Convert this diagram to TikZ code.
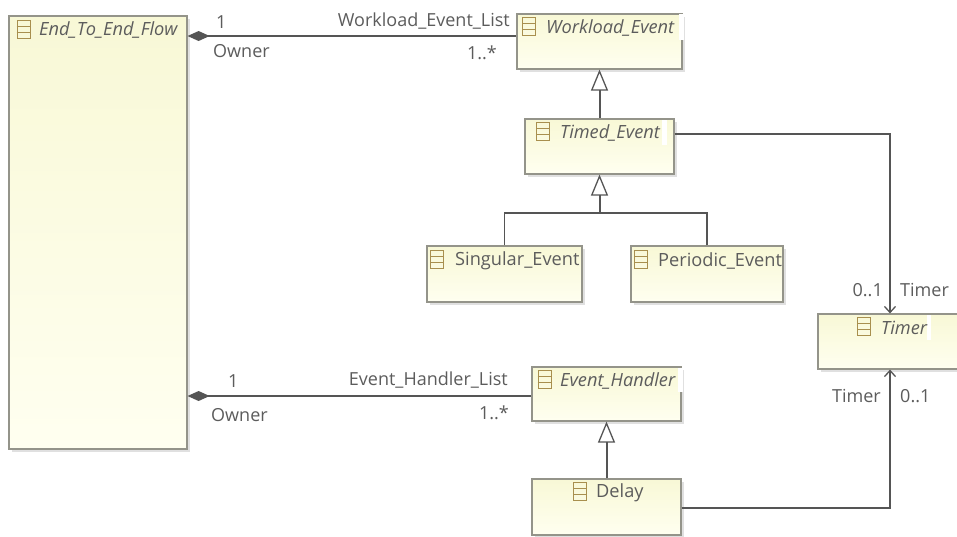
\documentclass[tikz,border=0pt]{standalone}
\usepackage{fontspec}
\setmainfont{Open Sans}
\usetikzlibrary{arrows.meta,shadows}
\definecolor{boxedge}{HTML}{94948A}
\definecolor{boxtop}{HTML}{F8F8D6}
\definecolor{boxbot}{HTML}{FFFFF0}
\definecolor{linec}{HTML}{555555}
\definecolor{textc}{HTML}{5C5C5C}
\definecolor{iconc}{HTML}{A88F4E}
\tikzset{
  x=1pt,y=-1pt,
  classbox/.style={draw=boxedge,line width=1.2pt,top color=boxtop,bottom color=boxbot,inner sep=0pt,
    drop shadow={shadow xshift=3pt,shadow yshift=-3pt,fill=black!20,opacity=.6}},
  title/.style={font=\fontsize{18.2}{21}\selectfont,text=textc,inner sep=0pt,anchor=west},
  abstitle/.style={title,font=\fontsize{18.2}{21}\selectfont\itshape},
  lab/.style={font=\fontsize{18}{21}\selectfont,text=textc,inner sep=0pt},
  conn/.style={draw=linec,line width=1.5pt},
  gen/.style={draw=linec,line width=2pt,-{Triangle[open,fill=white,length=21pt,width=17pt,line width=1.3pt]}},
  comp/.style={conn,{Diamond[length=22pt,width=10pt,fill=linec]}-},
  nav/.style={conn,-{Straight Barb[length=6pt,width=11pt,line width=1.3pt]}},
  icon/.style={draw=iconc,line width=1pt,minimum width=13pt,minimum height=18pt,inner sep=0pt},
}
\newcommand{\umlicon}[2]{%
  \node[icon] (#1) at (#2) {};
  \draw[iconc,line width=1pt] ([yshift=3pt]#1.west) -- ([yshift=3pt]#1.east);
  \draw[iconc,line width=1pt] ([yshift=-3pt]#1.west) -- ([yshift=-3pt]#1.east);
}
\begin{document}
\begin{tikzpicture}
\useasboundingbox[fill=white] (0,0) rectangle (957,536);
\begin{scope}
\clip (0,0) rectangle (957,536);
\node[classbox,minimum width=178pt,minimum height=433pt] (flow) at (98,232.5) {};
\node[classbox,minimum width=165pt,minimum height=55pt] (wev) at (599.5,41.5) {};
\node[classbox,minimum width=149pt,minimum height=55pt] (tev) at (599.5,146.5) {};
\node[classbox,minimum width=155pt,minimum height=56pt] (sev) at (504.5,274) {};
\node[classbox,minimum width=152pt,minimum height=56pt] (pev) at (707,274) {};
\node[classbox,minimum width=160pt,minimum height=55pt] (tim) at (898,341.5) {};
\node[classbox,minimum width=149pt,minimum height=54pt] (hnd) at (606.5,394) {};
\node[classbox,minimum width=149pt,minimum height=56pt] (del) at (606.5,507) {};
% title white patches
\fill[white] (679,14) rectangle (684,40);
\fill[white] (662,120) rectangle (667,145);
\fill[white] (678,368) rectangle (683,392);
\fill[white] (927,315) rectangle (931,340);
% icons and titles
\umlicon{i1}{23.5,29}\node[abstitle] (t1) at (39,30) {End\_To\_End\_Flow};
\umlicon{i2}{529,26.5}\node[abstitle] (t2) at (546,28) {Workload\_Event};
\umlicon{i3}{543,131.5}\node[abstitle] (t3) at (560,133) {Timed\_Event};
\umlicon{i4}{437,259.5}\node[title] (t4) at (455,261) {Singular\_Event};
\umlicon{i5}{641,259.5}\node[title] (t5) at (658,261) {Periodic\_Event};
\umlicon{i6}{864,326.5}\node[abstitle] (t6) at (881,328) {Timer};
\umlicon{i7}{544.5,379}\node[abstitle] (t7) at (560,381) {Event\_Handler};
\umlicon{i8}{580,491}\node[title] (t8) at (596,493) {Delay};
% connectors
\draw[comp] (flow.east |- 0,36) -- (wev.west |- 0,36);
\draw[comp] (flow.east |- 0,396) -- (hnd.west |- 0,396);
\draw[gen] (tev.north) -- (wev.south);
\draw[gen] (del.north) -- (hnd.south);
\coordinate (fork) at (599.5,213);
\draw[conn] (sev.north) |- (fork);
\draw[conn] (pev.north) |- (fork);
\draw[gen] (fork) -- (tev.south);
\coordinate (tt) at (890,134);
\coordinate (bt) at (890,508);
\draw[nav] (tev.east |- tt) -- (tt) -- (tim.north -| tt);
\draw[nav] (del.east |- bt) -- (bt) -- (tim.south -| bt);
% labels
\node[lab,anchor=west] (l1) at (216,22) {1};
\node[lab,anchor=west] (l2) at (213,51) {Owner};
\node[lab,anchor=east] (l3) at (510,21) {Workload\_Event\_List};
\node[lab,anchor=east] (l4) at (497,53) {1..*};
\node[lab,anchor=west] (l5) at (228,381) {1};
\node[lab,anchor=west] (l6) at (211,415) {Owner};
\node[lab,anchor=east] (l7) at (508,380) {Event\_Handler\_List};
\node[lab,anchor=east] (l8) at (509,413) {1..*};
\node[lab,anchor=east] (l9) at (883,290) {0..1};
\node[lab,anchor=west] (l10) at (900,290) {Timer};
\node[lab,anchor=east] (l11) at (881,396) {Timer};
\node[lab,anchor=west] (l12) at (900,396) {0..1};
\end{scope}
\end{tikzpicture}
\end{document}
